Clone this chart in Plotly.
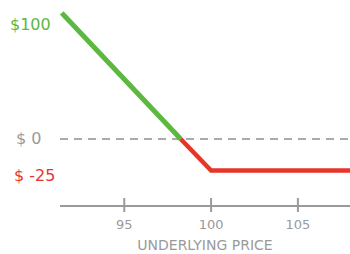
import plotly.graph_objects as go

# Data
green_x = [91.4, 98.25]
green_y = [100, 0]
red_x = [98.25, 100, 108]
red_y = [0, -25, -25]
x_ticks = [95, 100, 105]
x_tick_labels = ["95", "100", "105"]
y_label_vals = [100, 0, -25]
y_label_texts = ["$100", "$ 0", "$ -25"]
y_label_colors = ["#5cb83f", "#9a9a9a", "#e8352a"]
x_title = "UNDERLYING PRICE"

GREEN = "#5cb83f"
RED = "#e8352a"
GRAY = "#9a9a9a"
FONT = "DejaVu Sans"
X_RANGE = [91.3, 108.0]
Y_RANGE = [-52.4, 106.3]

fig = go.Figure()
fig.add_trace(go.Scatter(x=X_RANGE, y=[0, 0], mode="lines",
                         line=dict(color="#aaaaaa", width=2, dash="8px,6px"),
                         hoverinfo="skip"))
fig.add_trace(go.Scatter(x=green_x, y=green_y, mode="lines",
                         line=dict(color=GREEN, width=5), hoverinfo="skip"))
fig.add_trace(go.Scatter(x=red_x, y=red_y, mode="lines",
                         line=dict(color=RED, width=4.5), hoverinfo="skip"))
# tick marks crossing the axis line
fig.add_trace(go.Scatter(x=x_ticks, y=[Y_RANGE[0]] * len(x_ticks), mode="markers",
                         marker=dict(symbol="line-ns-open", size=10, color=GRAY,
                                     line=dict(color=GRAY, width=2)),
                         cliponaxis=False, hoverinfo="skip"))

yshifts = [-12, 0, -5]
xshifts = [0, 6, 4]
for v, t, c, ys, xs in zip(y_label_vals, y_label_texts, y_label_colors, yshifts, xshifts):
    fig.add_annotation(x=-0.18, xref="paper", y=v, yref="y", text=t,
                       showarrow=False, xanchor="left", yshift=ys, xshift=xs,
                       font=dict(family=FONT, size=16, color=c))

fig.update_layout(
    width=350, height=254,
    margin=dict(l=60, r=0, t=5, b=49),
    paper_bgcolor="white", plot_bgcolor="white",
    showlegend=False,
    hovermode=False,
    xaxis=dict(range=X_RANGE, tickvals=x_ticks, ticktext=x_tick_labels,
               showgrid=False, zeroline=False, showline=True,
               linecolor=GRAY, linewidth=2, ticks="",
               ticklabelstandoff=6,
               tickfont=dict(family=FONT, size=13, color=GRAY),
               title=dict(text=x_title, standoff=10,
                          font=dict(family=FONT, size=14, color=GRAY))),
    yaxis=dict(range=Y_RANGE, showgrid=False, zeroline=False,
               showline=False, showticklabels=False),
)

fig.write_html("out.html", config={"displayModeBar": False},
               post_script="document.body.style.margin='0';document.body.style.overflow='hidden';")
